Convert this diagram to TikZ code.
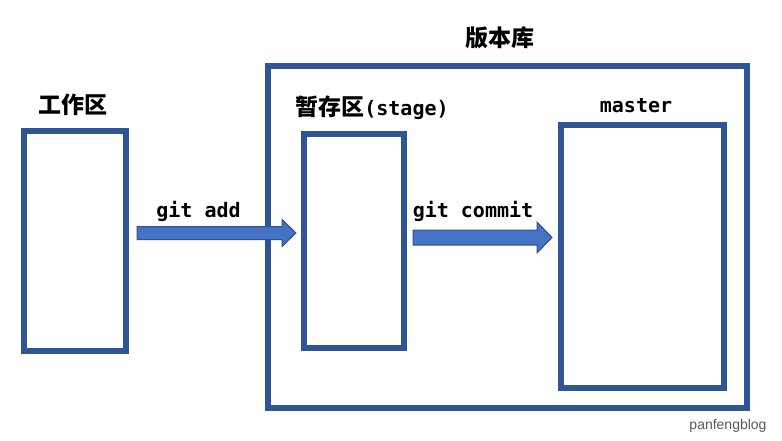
\documentclass[tikz,border=0pt]{standalone}
\usepackage{fontspec}
\newfontfamily\cjkfont{Noto Sans CJK SC}
\newfontfamily\codefont{DejaVu Sans Mono}
\newfontfamily\markfont{Liberation Sans}
\usetikzlibrary{calc, positioning}

\definecolor{boxblue}{HTML}{2F5597}
\definecolor{arrowfill}{HTML}{4472C4}
\definecolor{arrowedge}{HTML}{2F528F}

\begin{document}
\begin{tikzpicture}[
    x=1pt, y=-1pt,
    box/.style={draw=boxblue, line width=6pt, inner sep=0pt, fill=none},
    area/.style={font=\cjkfont\bfseries\fontsize{23}{27}\selectfont},
    cmd/.style={font=\codefont\bfseries\fontsize{20}{24}\selectfont},
    blockarrow/.style={draw=arrowedge, line width=1pt, fill=arrowfill, line join=miter}
]
\useasboundingbox (0,0) rectangle (782,441);

% Boxes
\node[box, minimum width=101.7pt, minimum height=219.7pt] (work) at (74.85,241.15) {};
\node[box, minimum width=479pt, minimum height=342pt] (repo) at (507.5,236.7) {};
\node[box, minimum width=99.7pt, minimum height=214.3pt] (stage) at (353.85,240.85) {};
\node[box, minimum width=163.3pt, minimum height=263.3pt] (master) at (642.35,256.35) {};

% Titles
\node[area] (worktitle) at (73,105) {工作区};
\node[area] (repotitle) at (500,38) {版本库};
\node[area] (stagetitle) at (372,108) {暂存区{\codefont\bfseries\fontsize{20}{24}\selectfont(stage)}};
\node[cmd] (mastertitle) at (636,106) {master};

% Arrow ends
\coordinate (addtail) at (137,233);
\coordinate (addtip) at (296,233);
\coordinate (committail) at (413,237.5);
\coordinate (committip) at (552,237.5);

% Block arrows
\draw[blockarrow] ($(addtail)+(0,-6.5)$) -- ($(addtip)+(-14,-6.5)$) -- ($(addtip)+(-14,-13.5)$)
    -- (addtip) -- ($(addtip)+(-14,13.5)$) -- ($(addtip)+(-14,6.5)$) -- ($(addtail)+(0,6.5)$) -- cycle;
\draw[blockarrow] ($(committail)+(0,-7.5)$) -- ($(committip)+(-15,-7.5)$) -- ($(committip)+(-15,-15.5)$)
    -- (committip) -- ($(committip)+(-15,15.5)$) -- ($(committip)+(-15,7.5)$) -- ($(committail)+(0,7.5)$) -- cycle;

% Arrow labels
\node[cmd] (addlabel) at (198.5,211) {git add};
\node[cmd] (commitlabel) at (473,211) {git commit};

% Watermark
\node[font=\markfont\fontsize{14}{16}\selectfont, text=black!65] (mark) at (728,426) {panfengblog};

\end{tikzpicture}
\end{document}
